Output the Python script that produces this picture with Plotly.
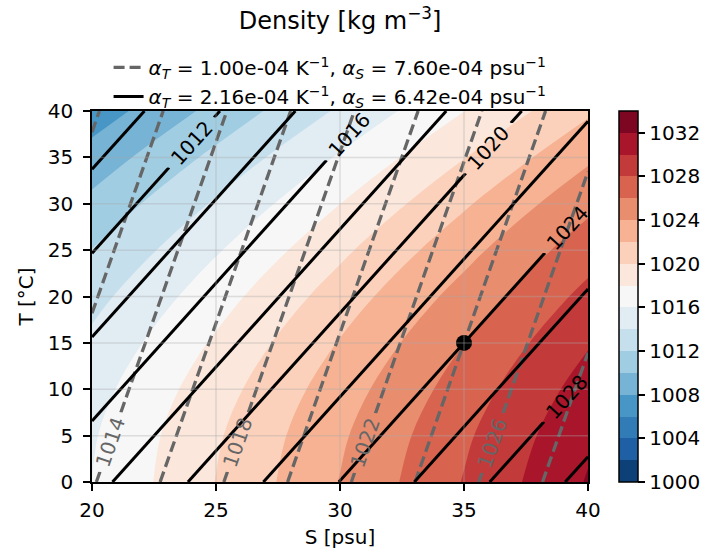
import math
import plotly.graph_objects as go

# ---------------- data ----------------
# grid of the (nonlinear) sea-water density field
S_grid = [20, 25, 30, 35, 40]                      # salinity [psu]
T_grid = [0, 5, 10, 15, 20, 25, 30, 35, 40]        # temperature [degC]
# density [kg m-3]; one row per temperature, columns follow S_grid
rho_T00 = [1016.01, 1020.04, 1024.07, 1028.11, 1032.15]
rho_T05 = [1015.81, 1019.76, 1023.71, 1027.68, 1031.64]
rho_T10 = [1015.27, 1019.16, 1023.05, 1026.95, 1030.86]
rho_T15 = [1014.44, 1018.28, 1022.12, 1025.97, 1029.83]
rho_T20 = [1013.36, 1017.15, 1020.95, 1024.76, 1028.58]
rho_T25 = [1012.05, 1015.81, 1019.57, 1023.34, 1027.13]
rho_T30 = [1010.53, 1014.25, 1017.99, 1021.73, 1025.48]
rho_T35 = [1008.81, 1012.51, 1016.22, 1019.93, 1023.66]
rho_T40 = [1006.91, 1010.59, 1014.28, 1017.97, 1021.68]
density = [rho_T00, rho_T05, rho_T10, rho_T15, rho_T20,
           rho_T25, rho_T30, rho_T35, rho_T40]

# linear equations of state (legend parameters)
alpha_T = [1.00e-4, 2.16e-4]     # K^-1   (dashed, solid)
alpha_S = [7.60e-4, 6.42e-4]     # psu^-1
rho_ref = 1024.0                 # kg m-3
S_ref, T_ref = 35.0, 15.0        # reference point (black dot)

S_edges = [20, 40]
T_edges = [0, 40]

fill_levels = (1000, 1034, 2)
line_levels = [1010, 1012, 1014, 1016, 1018, 1020, 1022, 1024, 1026, 1028, 1030]
labelled_dashed = [1014, 1018, 1022, 1026]
labelled_solid = [1012, 1016, 1020, 1024, 1028]
cbar_ticks = [1000, 1004, 1008, 1012, 1016, 1020, 1024, 1028, 1032]
x_ticks = [20, 25, 30, 35, 40]
y_ticks = [0, 5, 10, 15, 20, 25, 30, 35, 40]

# ---------------- label placement (style) ----------------
label_T_dashed = [4.3, 4.3, 4.2, 4.2]          # temperature at label centre
label_T_solid = [36.6, 37.4, 36.0, 27.4, 9.2]
gap_half_T = [3.2, 2.7]                       # half gap (degC) around labels

# ---------------- styling helpers ----------------
FONT = "DejaVu Sans"
W, H = 712, 553
ML, MR, MT, MB = 92, 124, 111, 71
PW, PH = W - ML - MR, H - MT - MB
rdbu = ['#053061', '#2166ac', '#4393c3', '#92c5de', '#d1e5f0', '#f7f7f7',
        '#fddbc7', '#f4a582', '#d6604d', '#b2182b', '#67001f']


def hex2rgb(h):
    h = h.lstrip('#')
    return [int(h[i:i + 2], 16) for i in (0, 2, 4)]


def cmap(p):
    p = min(max(p, 0.0), 1.0) * (len(rdbu) - 1)
    i = min(int(p), len(rdbu) - 2)
    f = p - i
    a, b = hex2rgb(rdbu[i]), hex2rgb(rdbu[i + 1])
    c = [round(a[k] + f * (b[k] - a[k])) for k in range(3)]
    return 'rgb(%d,%d,%d)' % tuple(c)


lo, hi, step = fill_levels
nb = int(round((hi - lo) / step))          # 17 bands
band_cols = [cmap((i + 0.5) / nb) for i in range(nb)]

# colour scale for the filled contour (plotly samples band i at (i+1)/(nb+1))
nreg = nb + 1
fill_scale = []
for i, col in enumerate(band_cols):
    a = 0.0 if i == 0 else (i + 0.5) / nreg
    b = 1.0 if i == nb - 1 else (i + 1.5) / nreg
    fill_scale += [[a, col], [b, col]]

# colour scale for the colour bar (exact bands lo..hi)
bar_scale = []
for i, col in enumerate(band_cols):
    bar_scale += [[i / nb, col], [(i + 1) / nb, col]]


def linear_field(k, t_pair):
    return [[rho_ref * (1 - alpha_T[k] * (t - T_ref) + alpha_S[k] * (s - S_ref))
             for s in S_edges] for t in t_pair]


def S_on_line(k, level, t):
    return S_ref + ((level / rho_ref - 1) + alpha_T[k] * (t - T_ref)) / alpha_S[k]


fig = go.Figure()

fig.add_trace(go.Contour(
    x=S_grid, y=T_grid, z=density,
    autocontour=False,
    contours=dict(start=lo, end=hi, size=step, coloring='fill', showlines=False),
    colorscale=fill_scale, line=dict(width=0), hoverinfo='skip',
    showscale=False, showlegend=False,
))

line_styles = [dict(color='#666666', width=3.3, dash='11px,5px'),
               dict(color='black', width=3.0, dash='solid')]
labelled = [labelled_dashed, labelled_solid]
label_T = [label_T_dashed, label_T_solid]


def add_level(k, level, t0, t1):
    fig.add_trace(go.Contour(
        x=S_edges, y=[t0, t1], z=linear_field(k, [t0, t1]), autocontour=False,
        contours=dict(start=level, end=level + 1, size=2, coloring='none',
                      showlabels=False),
        line=line_styles[k], showscale=False, showlegend=False,
        hoverinfo='skip'))


annotations = []
for k in range(2):
    slope_px = (alpha_S[k] / alpha_T[k]) * (PH / (T_edges[1] - T_edges[0])) / \
        (PW / (S_edges[1] - S_edges[0]))
    angle = -math.degrees(math.atan(slope_px))
    for level in line_levels:
        if level in labelled[k]:
            tl = label_T[k][labelled[k].index(level)]
            g = gap_half_T[k]
            add_level(k, level, T_edges[0], tl - g)
            add_level(k, level, tl + g, T_edges[1])
            annotations.append(dict(
                x=S_on_line(k, level, tl), y=tl, xref='x', yref='y',
                text=str(level), showarrow=False, textangle=angle,
                xanchor='center', yanchor='middle',
                font=dict(size=20, family=FONT, color=line_styles[k]['color'])))
        else:
            add_level(k, level, T_edges[0], T_edges[1])

# faint grid lines on top of the filled field
shapes = []
for xv in x_ticks[1:-1]:
    shapes.append(dict(type='line', xref='x', yref='y', x0=xv, x1=xv,
                       y0=T_edges[0], y1=T_edges[1], layer='above',
                       line=dict(color='rgba(170,170,170,0.35)', width=1.5)))
for yv in y_ticks[1:-1]:
    shapes.append(dict(type='line', xref='x', yref='y', y0=yv, y1=yv,
                       x0=S_edges[0], x1=S_edges[1], layer='above',
                       line=dict(color='rgba(170,170,170,0.35)', width=1.5)))

# reference point
fig.add_trace(go.Scatter(x=[S_ref], y=[T_ref], mode='markers',
                         marker=dict(size=16, color='black'),
                         showlegend=False, hoverinfo='skip'))

# colour bar (exact 1000..1034 bands)
fig.add_trace(go.Scatter(
    x=[None, None], y=[None, None], mode='markers', showlegend=False,
    hoverinfo='skip',
    marker=dict(color=[lo, hi], cmin=lo, cmax=hi, colorscale=bar_scale,
                showscale=True,
                colorbar=dict(x=1.0625, xanchor='left', y=0.5, yanchor='middle',
                              len=1, lenmode='fraction', thickness=19,
                              xpad=0, ypad=0,
                              outlinewidth=1.5, outlinecolor='black',
                              tickmode='array', tickvals=cbar_ticks,
                              tickprefix='\u2002\u2009',
                              ticks='outside', ticklen=7, tickwidth=1.5,
                              tickcolor='black',
                              tickfont=dict(size=20, family=FONT,
                                            color='black')))))

# legend entries
for k in range(2):
    name = ('<i>α</i><sub><i>T</i></sub> = %.2e K<sup>−1</sup>, '
            '<i>α</i><sub><i>S</i></sub> = %.2e psu<sup>−1</sup>'
            % (alpha_T[k], alpha_S[k]))
    fig.add_trace(go.Scatter(x=[None], y=[None], mode='lines',
                             line=line_styles[k], name=name,
                             showlegend=True))

axis_common = dict(ticks='outside', ticklen=7, tickwidth=1.5,
                   tickcolor='black', showline=True, mirror=True,
                   linecolor='black', linewidth=1.5, showgrid=False,
                   zeroline=False, automargin=False,
                   tickfont=dict(size=20, family=FONT, color='black'))

fig.update_layout(
    width=W, height=H, autosize=False,
    margin=dict(l=ML, r=MR, t=MT, b=MB, pad=0, autoexpand=False),
    paper_bgcolor='white', plot_bgcolor='white',
    font=dict(family=FONT, size=20, color='black'),
    title=dict(text='Density [kg m<sup>−3</sup>]', x=0.5, xref='paper',
               xanchor='center', y=1 - 21 / H, yref='container',
               yanchor='middle', font=dict(size=24, family=FONT, color='black')),
    xaxis=dict(range=S_edges, tickvals=x_ticks, ticklabelstandoff=2,
               title=dict(text='S [psu]', standoff=9, font=dict(size=20)),
               **axis_common),
    yaxis=dict(range=T_edges, tickvals=y_ticks, ticklabelstandoff=6,
               title=dict(text='T [°C]', standoff=9, font=dict(size=20)),
               **axis_common),
    legend=dict(x=0.48, xanchor='center', y=1.17, yanchor='top',
                bgcolor='rgba(0,0,0,0)', font=dict(size=20, family=FONT),
                tracegroupgap=0),
    showlegend=True,
    annotations=annotations,
    shapes=shapes,
)

fig.write_html("out.html")
